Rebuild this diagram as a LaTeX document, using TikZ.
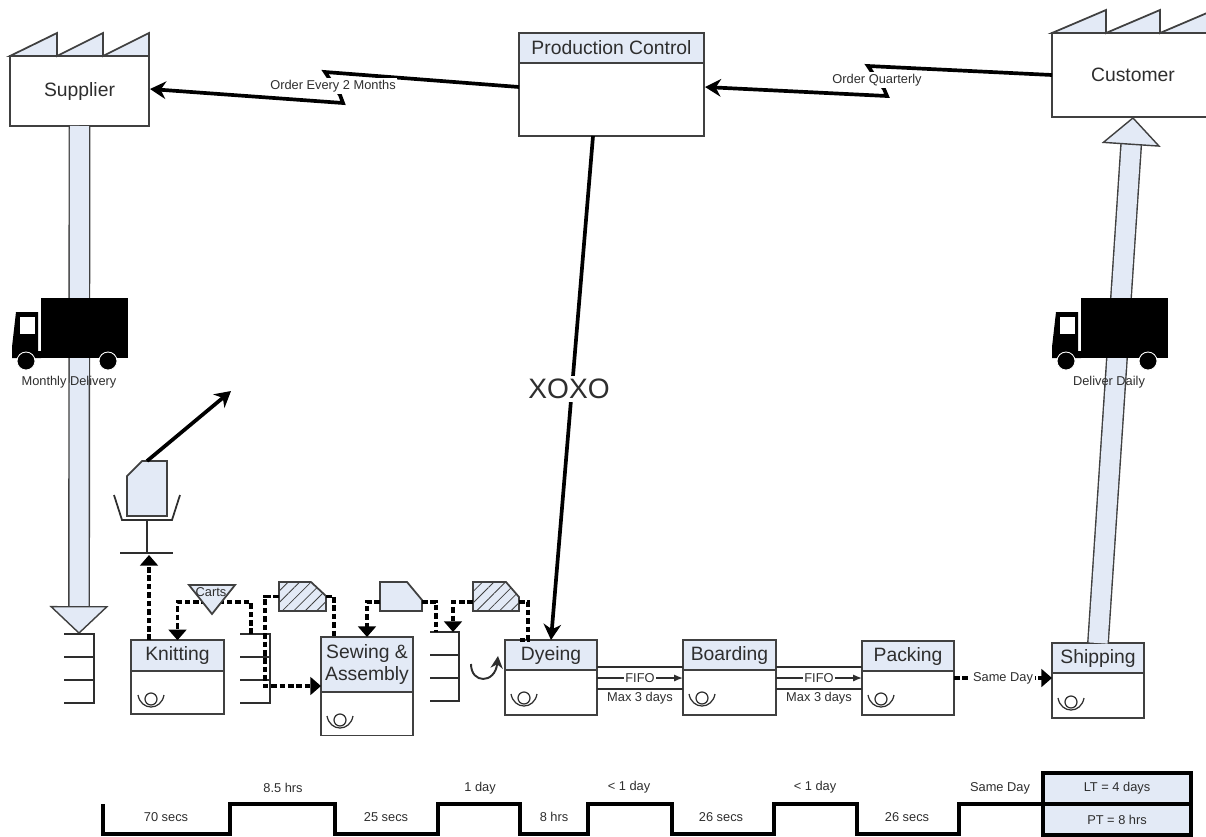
\documentclass[tikz,border=0pt]{standalone}
\usepackage{fontspec}
\setsansfont{Liberation Sans}
\usepackage{tikz}
\usetikzlibrary{positioning,arrows.meta,patterns.meta}
\definecolor{vsmfill}{HTML}{E3EAF6}
\definecolor{vsmline}{HTML}{404040}
\definecolor{vsmtext}{HTML}{2E2E2E}

\begin{document}
\begin{tikzpicture}[
  x=0.02cm, y=-0.02cm,
  every node/.style={font=\sffamily\fontsize{11}{13}\selectfont, text=vsmtext},
  tinylabel/.style={font=\sffamily\fontsize{7.3}{9}\selectfont, inner sep=1pt},
  factory/.style={draw=vsmline, fill=white, line width=1pt, outer sep=0pt},
  prochead/.style={
    draw=vsmline, fill=vsmfill, line width=1pt, outer sep=0pt, inner sep=0pt,
    minimum width=1.85cm, minimum height=0.61cm, align=center,
  },
  procbody/.style={
    draw=vsmline, fill=white, line width=1pt, outer sep=0pt,
    minimum width=1.85cm, minimum height=0.87cm,
  },
  docanchor/.style={outer sep=0pt, inner sep=0pt, minimum height=0.58cm},
  plaindoc/.style={draw=vsmline, line width=1pt, fill=vsmfill},
  hatchdoc/.style={
    draw=vsmline, line width=1pt, preaction={fill=vsmfill}, pattern color=vsmline,
    pattern={Lines[angle=45,distance=4.6pt,line width=0.45pt]},
  },
  kanban/.style={line width=2.1pt, draw=black, dash pattern=on 3.2pt off 1.6pt},
  kanbanarrow/.style={kanban, -{Triangle[length=6pt,width=10pt]}},
  infoarrow/.style={line width=2.1pt, draw=black, -{Stealth[length=9pt,width=10pt]}},
  pusharrow/.style={
    draw=vsmline, line width=0.8pt, double=vsmfill, double distance=0.38cm,
    -{Triangle[length=0.56cm,width=1.18cm,fill=vsmfill]},
  },
  thinline/.style={line width=1pt, draw=vsmtext},
  thinarrow/.style={line width=0.8pt, draw=vsmtext, -{Latex[length=5pt,width=4pt]}},
  timeline/.style={line width=2.2pt, draw=black},
  summary/.style={
    draw=black, fill=vsmfill, line width=2.4pt, outer sep=0pt, inner sep=0pt,
    minimum width=2.96cm, minimum height=0.62cm, tinylabel,
  },
  operator/.pic={
    \draw[vsmtext, line width=0.7pt] (0,0) circle (6);
    \draw[vsmtext, line width=0.7pt] (-13,-4) .. controls (-10,12) and (10,12) .. (13,-4);
  },
  truck/.pic={
    \fill[black] (41,298) rectangle (128,358);
    \fill[black] (12,358) -- (12,347) -- (16,312) -- (38,312) -- (38,351) -- (41,351) -- (41,358) -- cycle;
    \fill[white] (20,317) rectangle (35,334);
    \draw[white, fill=black, line width=0.5pt] (26,361) circle (9);
    \draw[white, fill=black, line width=0.5pt] (108,361) circle (9);
  },
]
  \clip (0,0) rectangle (1206,836);

  \fill[white] (0,0) rectangle (1206,836);

  \node[factory, minimum width=2.78cm, minimum height=1.4cm] (supplier) at (79.5,91) {Supplier};
  \node[factory, minimum width=3.24cm, minimum height=1.68cm] (customer) at (1133,75) {Customer};
  \draw[thinline, draw=vsmline, fill=vsmfill] (10,56) -- (57,33) -- (57,56) -- (103,33) -- (103,56) -- (149,33) -- (149,56) -- cycle;
  \draw[thinline, draw=vsmline, fill=vsmfill] (1052,33) -- (1106,10) -- (1106,33) -- (1160,10) -- (1160,33) -- (1214,10) -- (1214,33) -- cycle;

  \node[prochead, minimum width=3.7cm, minimum height=0.6cm] (controlhead) at (611.5,48) {Production Control};
  \node[procbody, minimum width=3.7cm, minimum height=1.46cm, below=0pt of controlhead] (controlbody) {};

  \node[prochead] (knithead) at (177.5,655.5) {Knitting};
  \node[procbody, below=0pt of knithead] (knitbody) {};
  \node[prochead, minimum height=1.1cm] (sewhead) at (367,664.5) {Sewing \&\\Assembly};
  \node[procbody, below=0pt of sewhead] (sewbody) {};
  \node[prochead, minimum height=0.6cm] (dyehead) at (551,655) {Dyeing};
  \node[procbody, minimum height=0.9cm, below=0pt of dyehead] (dyebody) {};
  \node[prochead, minimum height=0.6cm] (boardhead) at (729.5,655) {Boarding};
  \node[procbody, minimum height=0.9cm, below=0pt of boardhead] (boardbody) {};
  \node[prochead, minimum height=0.6cm] (packhead) at (908,656) {Packing};
  \node[procbody, minimum height=0.88cm, below=0pt of packhead] (packbody) {};
  \node[prochead, minimum height=0.6cm] (shiphead) at (1098,658) {Shipping};
  \node[procbody, minimum height=0.9cm, below=0pt of shiphead] (shipbody) {};

  \pic at (151,699) {operator};
  \pic at (340,720) {operator};
  \pic at (524,698) {operator};
  \pic at (702,698) {operator};
  \pic at (881,699) {operator};
  \pic at (1071,702) {operator};

  \coordinate (combone) at (79,634);
  \coordinate (combtwo) at (251,634);
  \coordinate (combthree) at (436,632);

  \draw[pusharrow] (supplier.south) -- (combone);
  \draw[pusharrow] (shiphead.north) -- (customer.south);

  \draw[thinline] (64,634) -- (94,634) -- (94,703) -- (64,703) (64,657) -- (94,657) (64,680) -- (94,680);
  \draw[thinline] (240,634) -- (270,634) -- (270,703) -- (240,703) (240,657) -- (270,657) (240,680) -- (270,680);
  \draw[thinline] (430,632) -- (459,632) -- (459,701) -- (430,701) (430,655) -- (459,655) (430,678) -- (459,678);

  \pic at (0,0) {truck};
  \pic at (1040,0) {truck};
  \node[tinylabel] (monthly) at (69,382) {Monthly Delivery};
  \node[tinylabel] (daily) at (1109,382) {Deliver Daily};

  \coordinate (supplierin) at (150,89);
  \coordinate (controlout) at (519,87);
  \coordinate (controlin) at (705,87);
  \draw[infoarrow] (controlout) -- (325,72) -- (333,84) -- (340,95) -- (343,103) -- (supplierin);
  \draw[infoarrow] (customer.west) -- (868,66) -- (876,78) -- (884,89) -- (887,96) -- (controlin);
  \node[tinylabel, fill=white] (orderleft) at (333,86) {Order Every 2 Months};
  \node[tinylabel, fill=white] (orderright) at (877,80) {Order Quarterly};

  \coordinate (controlsched) at (593,136);
  \draw[infoarrow] (controlsched) -- (dyehead.north);
  \node[fill=white, inner sep=2pt, font=\sffamily\fontsize{16}{18}\selectfont] (xoxo) at (569,389) {XOXO};

  \node[docanchor, minimum width=0.8cm, minimum height=1.1cm] (kaizen) at (147,488.5) {};
  \draw[plaindoc] (kaizen.south west) -- ([yshift=-0.3cm]kaizen.north west) -- ([xshift=0.3cm]kaizen.north west) -- (kaizen.north east) -- (kaizen.south east) -- cycle;
  \draw[thinline] (114,495) -- (122,520) -- (172,520) -- (180,495);
  \draw[thinline] (147,520) -- (147,553) (120,553) -- (173,553);
  \coordinate (kaizenend) at (231,391);
  \draw[infoarrow] (kaizen.north) -- (kaizenend);

  \coordinate (knitup) at (149,640);
  \coordinate (trayin) at (149,555);
  \coordinate (cartsmid) at (212,602);
  \coordinate (bendone) at (265,686);
  \coordinate (sewin) at (321,686);
  \coordinate (sewout) at (334,637);
  \coordinate (dyeup) at (528,640);
  \coordinate (combthreein) at (453,632);
  \draw[kanbanarrow] (knitup) -- (trayin);
  \draw[kanbanarrow] (combtwo) |- (cartsmid) -| (knithead.north);
  \draw[thinline, draw=vsmline, fill=vsmfill] (189,585) -- (235,585) -- (212,614) -- cycle;
  \node[tinylabel] (carts) at (211,592) {Carts};

  \node[docanchor, minimum width=0.94cm] (hatchone) at (302.5,596.5) {};
  \node[docanchor, minimum width=0.84cm] (plaintwo) at (401,596.5) {};
  \node[docanchor, minimum width=0.92cm] (hatchtwo) at (496,596.5) {};
  \draw[hatchdoc] (hatchone.south west) -- (hatchone.north west) -- ([xshift=-0.3cm]hatchone.north east) -- ([yshift=-0.28cm]hatchone.north east) -- (hatchone.south east) -- cycle;
  \draw[plaindoc] (plaintwo.south west) -- (plaintwo.north west) -- ([xshift=-0.3cm]plaintwo.north east) -- ([yshift=-0.36cm]plaintwo.north east) -- (plaintwo.south east) -- cycle;
  \draw[hatchdoc] (hatchtwo.south west) -- (hatchtwo.north west) -- ([xshift=-0.26cm]hatchtwo.north east) -- ([yshift=-0.3cm]hatchtwo.north east) -- (hatchtwo.south east) -- cycle;

  \draw[kanbanarrow] (hatchone.west) -| (bendone) -- (sewin);
  \draw[kanban] (hatchone.east) -| (sewout);
  \draw[kanbanarrow] ([yshift=-3pt]plaintwo.west) -| (sewhead.north);
  \draw[kanban] ([yshift=-3pt]plaintwo.east) -| (combthree);
  \draw[kanbanarrow] ([yshift=-3pt]hatchtwo.west) -| (combthreein);
  \draw[kanban] ([yshift=-3pt]hatchtwo.east) -| (dyeup) -- ++(-8,0);

  \coordinate (loopstart) at (471,664);
  \coordinate (loopend) at (498,656);
  \draw[line width=1.1pt, draw=vsmtext, -{Stealth[length=7pt,width=7pt]}] (loopstart) .. controls (471,684) and (495,684) .. (loopend);

  \coordinate (dyeout) at (597,678);
  \coordinate (boardin) at (683,678);
  \coordinate (boardout) at (776,678);
  \coordinate (packin) at (862,678);
  \coordinate (packout) at (954,678);
  \coordinate (shipin) at (1052,678);
  \draw[thinarrow] (dyeout) -- (boardin);
  \draw[thinline] ([yshift=0.22cm]dyeout) -- ([yshift=0.22cm]boardin);
  \draw[thinline] ([yshift=-0.22cm]dyeout) -- ([yshift=-0.22cm]boardin);
  \draw[thinarrow] (boardout) -- (packin);
  \draw[thinline] ([yshift=0.22cm]boardout) -- ([yshift=0.22cm]packin);
  \draw[thinline] ([yshift=-0.22cm]boardout) -- ([yshift=-0.22cm]packin);
  \node[tinylabel, fill=white] (fifoa) at (640,678) {FIFO};
  \node[tinylabel, fill=white] (fifob) at (819,678) {FIFO};
  \node[tinylabel] (maxa) at (640,698) {Max 3 days};
  \node[tinylabel] (maxb) at (819,698) {Max 3 days};
  \draw[kanbanarrow] (packout) -- (shipin);
  \node[tinylabel, fill=white] (sameday) at (1003,678) {Same Day};

  \node[summary] (leadtime) at (1117,788.5) {LT = 4 days};
  \node[summary, below=0pt of leadtime] (proctime) {PT = 8 hrs};
  \draw[timeline] (103,804) -- (103,834) -- (230,834) -- (230,804) -- (335,804) -- (335,834) -- (438,834) -- (438,804) -- (520,804) -- (520,834)
    -- (588,834) -- (588,804) -- (672,804) -- (672,834) -- (774,834) -- (774,804) -- (857,804) -- (857,834) -- (959,834) -- (959,804) -- (leadtime.south west);

  \node[tinylabel] (waitone) at (283,788) {8.5 hrs};
  \node[tinylabel] (waittwo) at (480,788) {1 day};
  \node[tinylabel] (waitthree) at (629,787) {< 1 day};
  \node[tinylabel] (waitfour) at (815,787) {< 1 day};
  \node[tinylabel] (waitfive) at (1000,788) {Same Day};
  \node[tinylabel] (cycleone) at (166,817) {70 secs};
  \node[tinylabel] (cycletwo) at (386,817) {25 secs};
  \node[tinylabel] (cyclethree) at (554,817) {8 hrs};
  \node[tinylabel] (cyclefour) at (721,817) {26 secs};
  \node[tinylabel] (cyclefive) at (907,817) {26 secs};
\end{tikzpicture}
\end{document}
